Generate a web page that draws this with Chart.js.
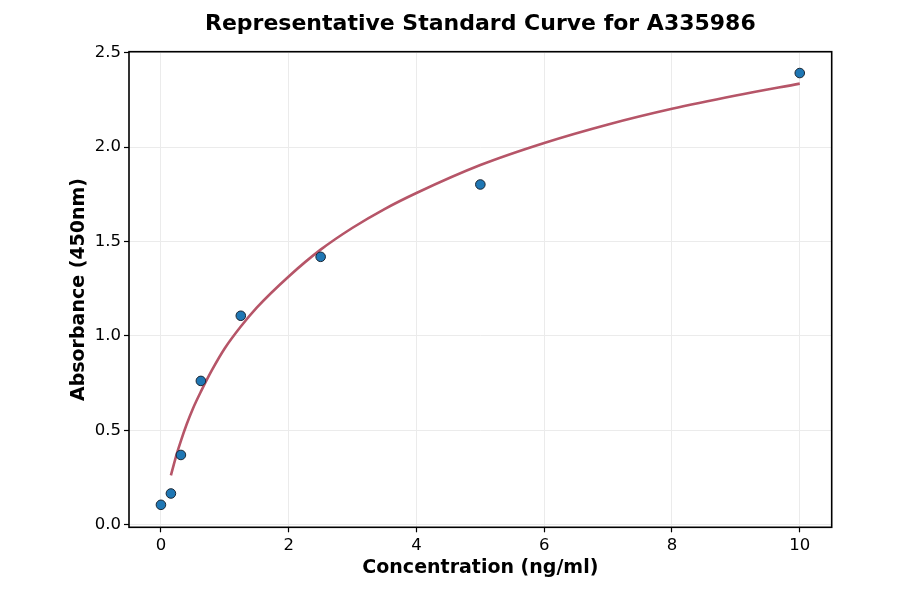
<!DOCTYPE html>
<html>
<head>
<meta charset="utf-8">
<script src="https://cdn.jsdelivr.net/npm/chart.js@4/dist/chart.umd.min.js"></script>
<style>
  html, body { margin: 0; padding: 0; background: #ffffff; }
  #wrap { width: 900px; height: 594px; position: relative; }
</style>
</head>
<body>
<div id="wrap"><canvas id="c" width="900" height="594"></canvas></div>
<script>
// ---- data ----
const chartTitle = 'Representative Standard Curve for A335986';
const xAxisLabel = 'Concentration (ng/ml)';
const yAxisLabel = 'Absorbance (450nm)';

// standard points (concentration, absorbance)
const stdConc = [0, 0.156, 0.3125, 0.625, 1.25, 2.5, 5, 10];
const stdAbs  = [0.106, 0.166, 0.370, 0.762, 1.107, 1.419, 1.802, 2.392];

// fitted curve
const curveConc = [0.156, 0.25, 0.3125, 0.4, 0.5, 0.625, 0.8, 1, 1.25, 1.5, 2, 2.5, 3, 3.5, 4, 5, 6, 7, 8, 9, 10];
const curveAbs  = [0.262, 0.378, 0.445, 0.53, 0.615, 0.705, 0.82, 0.935, 1.05, 1.15, 1.315, 1.457, 1.573, 1.672, 1.757, 1.905, 2.022, 2.12, 2.203, 2.273, 2.336];

// tick labels
const xTicks = [0, 2, 4, 6, 8, 10];
const yTicks = [0.0, 0.5, 1.0, 1.5, 2.0, 2.5];

// ---- chart ----
const FONT = 'DejaVu Sans';

const frame = {
  id: 'frame',
  afterDatasetsDraw(chart) {
    const a = chart.chartArea;
    const ctx = chart.ctx;
    ctx.save();
    ctx.strokeStyle = '#000000';
    ctx.lineWidth = 1.6;
    ctx.strokeRect(a.left, a.top, a.right - a.left, a.bottom - a.top);
    ctx.restore();
  }
};

new Chart(document.getElementById('c'), {
  type: 'scatter',
  data: {
    datasets: [
      {
        type: 'scatter',
        label: 'Standards',
        data: stdConc.map((x, i) => ({ x: x, y: stdAbs[i] })),
        pointRadius: 4.8,
        pointHoverRadius: 4.8,
        backgroundColor: '#1f77b4',
        borderColor: '#1b2633',
        borderWidth: 1,
        order: 1
      },
      {
        type: 'line',
        label: 'Fit',
        data: curveConc.map((x, i) => ({ x: x, y: curveAbs[i] })),
        borderColor: '#b65568',
        borderWidth: 2.6,
        pointRadius: 0,
        fill: false,
        cubicInterpolationMode: 'monotone',
        order: 2
      }
    ]
  },
  options: {
    responsive: false,
    animation: false,
    devicePixelRatio: 1,
    layout: { padding: { top: 0, left: 0, right: 68.3, bottom: 0 } },
    plugins: {
      legend: { display: false },
      tooltip: { enabled: false },
      title: {
        display: true,
        text: chartTitle,
        fullSize: false,
        color: '#000000',
        font: { family: FONT, size: 22, weight: 'bold' },
        padding: { top: 11.2, bottom: 14.1 }
      }
    },
    scales: {
      x: {
        type: 'linear',
        min: -0.5,
        max: 10.5,
        afterFit(s) { s.height = 66.7; },
        afterBuildTicks(s) { s.ticks = xTicks.map(v => ({ value: v })); },
        border: { display: false },
        grid: {
          color: '#ebebeb',
          lineWidth: 1,
          drawTicks: true,
          tickLength: 5,
          tickColor: '#000000',
          tickWidth: 1.2
        },
        ticks: {
          color: '#000000',
          font: { family: FONT, size: 16.5 },
          padding: 4,
          maxRotation: 0,
          callback: v => String(v)
        },
        title: {
          display: true,
          text: xAxisLabel,
          color: '#000000',
          font: { family: FONT, size: 19, weight: 'bold' },
          padding: { top: 0, bottom: 14.3 }
        }
      },
      y: {
        type: 'linear',
        min: -0.013,
        max: 2.505,
        afterFit(s) { s.width = 129; },
        afterBuildTicks(s) { s.ticks = yTicks.map(v => ({ value: v })); },
        border: { display: false },
        grid: {
          color: '#ebebeb',
          lineWidth: 1,
          drawTicks: true,
          tickLength: 5,
          tickColor: '#000000',
          tickWidth: 1.2
        },
        ticks: {
          color: '#000000',
          font: { family: FONT, size: 16.5 },
          padding: 3,
          callback: v => Number(v).toFixed(1)
        },
        title: {
          display: true,
          text: yAxisLabel,
          color: '#000000',
          font: { family: FONT, size: 19, weight: 'bold' },
          padding: { top: 67.6, bottom: 0 }
        }
      }
    }
  },
  plugins: [frame]
});
</script>
</body>
</html>
